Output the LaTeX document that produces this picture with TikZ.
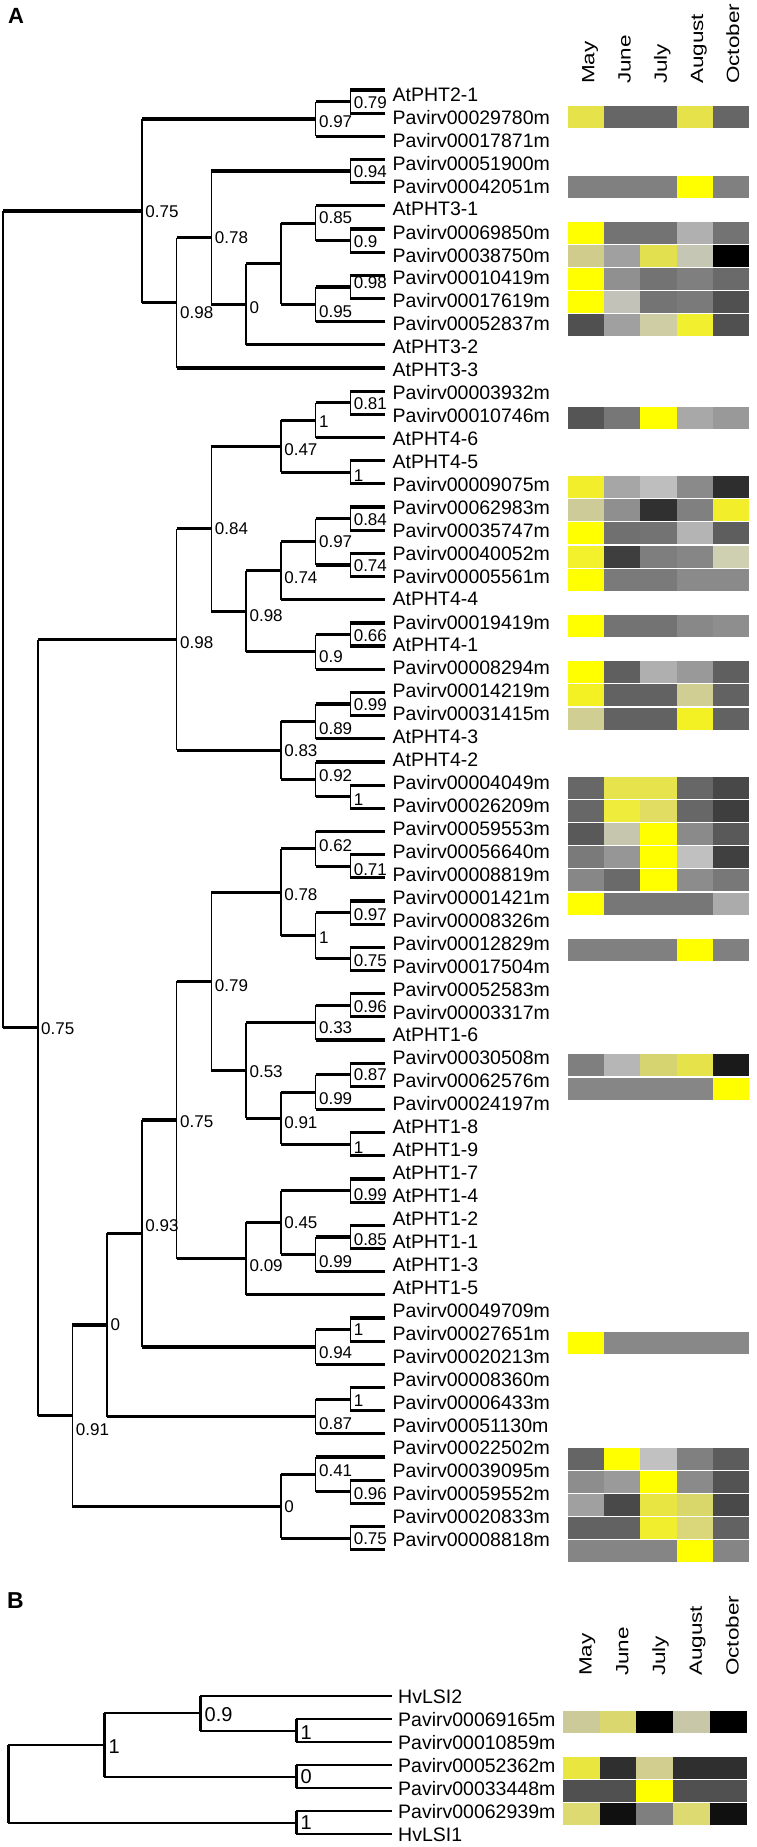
\documentclass[tikz,border=0pt]{standalone}
\usepackage{fontspec}
\setmainfont{Liberation Sans}
\newfontfamily\monthfont[FakeStretch=1.27]{Liberation Sans}
\usetikzlibrary{calc}

\tikzset{
  hbranch/.style={line width=3.2pt},
  vbranch/.style={line width=1.6pt},
  boot/.style={anchor=west, inner sep=0pt, xshift=3.3pt, font=\fontsize{17}{19}\selectfont},
  leaf/.style={anchor=west, inner sep=0pt, font=\fontsize{19.5}{22}\selectfont},
  month/.style={anchor=base west, inner sep=0pt, rotate=90, font=\monthfont\fontsize{17.7}{20}\selectfont},
  panel/.style={anchor=base west, inner sep=0pt, font=\bfseries\fontsize{22}{24}\selectfont}
}

% clade: name, level, first child, last child, support, label offset
\newcommand{\clade}[6]{%
  \coordinate (mid-#1) at ($(#3)!0.5!(#4)$);
  \coordinate (#1) at (#2 |- mid-#1);
  \draw[vbranch] (#1 |- #3) -- (#1 |- #4);
  \draw[hbranch] (#1 |- #3) -- (#3);
  \draw[hbranch] (#1 |- #4) -- (#4);
  \if\relax\detokenize{#5}\relax\else
    \node[boot] (sup-#1) at ($(#1)+(0,#6)$) {#5};
  \fi}

% heat map row: x0, first centre, pitch, cell width, row, colours
\newcommand{\setcell}[1]{\definecolor{cellc}{HTML}{#1}}
\newcommand{\hmrow}[6]{%
  \foreach \hc [count=\hj from 0] in {#6} {%
    \expandafter\setcell\expandafter{\hc}%
    \fill[cellc] ({#1+#4*\hj},{#2+#3*(#5-1)-11}) rectangle ++(#4,22);
  }}
\newcommand{\hmA}[2]{\hmrow{568}{94}{23.13}{36.2}{#1}{#2}}
\newcommand{\hmB}[2]{\hmrow{563}{1699}{23}{36.7}{#1}{#2}}

\begin{document}
\begin{tikzpicture}[x=1pt, y=-1pt]
  \path[use as bounding box, fill=white] (0,0) rectangle (756,1847);

  %% panel A
  \node[panel] (pA) at (8,23.3) {A};
  \foreach \m [count=\j from 0] in {May,June,July,August,October}
    \node[month] (mA\j) at ({594.4+36.2*\j},84) {\m};

  \hmA{2}{E5E24A,666666,666666,E5E24A,666666}
  \hmA{5}{808080,808080,808080,FFFF00,808080}
  \hmA{7}{FFFF00,737373,737373,B0B0B0,737373}
  \hmA{8}{D0CD8C,A0A0A0,E3E04F,C6C6B4,000000}
  \hmA{9}{FFFF00,909090,737373,7F7F7F,6A6A6A}
  \hmA{10}{FFFF00,C2C2B8,747474,7A7A7A,505050}
  \hmA{11}{505050,A0A0A0,CFCDA3,F2EF2E,505050}
  \hmA{15}{555555,777777,FFFF00,A8A8A8,999999}
  \hmA{18}{F2EE2C,A6A6A6,BEBEBE,8A8A8A,2E2E2E}
  \hmA{19}{CDCB98,8F8F8F,303030,808080,F2EF2A}
  \hmA{20}{FFFF00,707070,737373,B4B4B4,5E5E5E}
  \hmA{21}{F3F02C,3E3E3E,7E7E7E,868686,CFCFB1}
  \hmA{22}{FFFF00,7A7A7A,7A7A7A,8A8A8A,8A8A8A}
  \hmA{24}{FFFF00,737373,737373,888888,8E8E8E}
  \hmA{26}{FFFF00,5F5F5F,AFAFAF,999999,5F5F5F}
  \hmA{27}{F3F024,626262,626262,D1CE93,626262}
  \hmA{28}{D1CE93,626262,626262,F3F024,626262}
  \hmA{31}{676767,E6E34C,E6E34C,676767,484848}
  \hmA{32}{676767,EFEC3C,E0DD62,676767,3E3E3E}
  \hmA{33}{595959,C6C6AE,FFFF00,8A8A8A,595959}
  \hmA{34}{7A7A7A,969696,FFFF00,C0C0C0,404040}
  \hmA{35}{878787,6A6A6A,FFFF00,8C8C8C,787878}
  \hmA{36}{FFFF00,777777,777777,777777,ABABAB}
  \hmA{38}{808080,808080,808080,FFFF00,808080}
  \hmA{43}{7F7F7F,B6B6B6,D6D471,E6E34A,1A1A1A}
  \hmA{44}{868686,868686,868686,868686,FFFF00}
  \hmA{55}{FFFF00,888888,888888,888888,888888}
  \hmA{60}{656565,FFFF00,C1C1C1,808080,5C5C5C}
  \hmA{61}{8D8D8D,9A9A9A,FFFF00,8A8A8A,535353}
  \hmA{62}{A0A0A0,494949,E8E542,DAD76A,494949}
  \hmA{63}{626262,626262,F1EE2E,DAD77A,626262}
  \hmA{64}{858585,858585,858585,FFFF00,858585}

  \foreach \k in {0,...,11}
    \coordinate (kA\k) at ({3+34.73*\k},0);
  \foreach \nm [count=\i] in {AtPHT2-1,Pavirv00029780m,Pavirv00017871m,
      Pavirv00051900m,Pavirv00042051m,AtPHT3-1,Pavirv00069850m,Pavirv00038750m,
      Pavirv00010419m,Pavirv00017619m,Pavirv00052837m,AtPHT3-2,AtPHT3-3,
      Pavirv00003932m,Pavirv00010746m,AtPHT4-6,AtPHT4-5,Pavirv00009075m,
      Pavirv00062983m,Pavirv00035747m,Pavirv00040052m,Pavirv00005561m,AtPHT4-4,
      Pavirv00019419m,AtPHT4-1,Pavirv00008294m,Pavirv00014219m,Pavirv00031415m,
      AtPHT4-3,AtPHT4-2,Pavirv00004049m,Pavirv00026209m,Pavirv00059553m,
      Pavirv00056640m,Pavirv00008819m,Pavirv00001421m,Pavirv00008326m,
      Pavirv00012829m,Pavirv00017504m,Pavirv00052583m,Pavirv00003317m,AtPHT1-6,
      Pavirv00030508m,Pavirv00062576m,Pavirv00024197m,AtPHT1-8,AtPHT1-9,
      AtPHT1-7,AtPHT1-4,AtPHT1-2,AtPHT1-1,AtPHT1-3,AtPHT1-5,Pavirv00049709m,
      Pavirv00027651m,Pavirv00020213m,Pavirv00008360m,Pavirv00006433m,
      Pavirv00051130m,Pavirv00022502m,Pavirv00039095m,Pavirv00059552m,
      Pavirv00020833m,Pavirv00008818m} {
    \coordinate (t\i) at (385,{90+23.17*(\i-1)});
    \node[leaf] (leafA\i) at (392.5,{94.5+22.94*(\i-1)}) {\nm};
  }

  % PHT2 / PHT3
  \clade{a79}{kA10}{t1}{t2}{0.79}{1}
  \clade{a97}{kA9}{a79}{t3}{0.97}{3}
  \clade{a94}{kA10}{t4}{t5}{0.94}{1}
  \clade{a90}{kA10}{t7}{t8}{0.9}{1}
  \clade{a85}{kA9}{t6}{a90}{0.85}{-6}
  \clade{a98b}{kA10}{t9}{t10}{0.98}{-4}
  \clade{a95}{kA9}{a98b}{t11}{0.95}{7}
  \clade{a8}{kA8}{a85}{a95}{}{0}
  \clade{a0}{kA7}{a8}{t12}{0}{3}
  \clade{a78}{kA6}{a94}{a0}{0.78}{0}
  \clade{a98}{kA5}{a78}{t13}{0.98}{10}
  \clade{a75}{kA4}{a97}{a98}{0.75}{1}
  % PHT4
  \clade{b81}{kA10}{t14}{t15}{0.81}{1}
  \clade{b1a}{kA9}{b81}{t16}{1}{1}
  \clade{b1b}{kA10}{t17}{t18}{1}{3}
  \clade{b47}{kA8}{b1a}{b1b}{0.47}{3}
  \clade{b84a}{kA10}{t19}{t20}{0.84}{1}
  \clade{b74a}{kA10}{t21}{t22}{0.74}{1}
  \clade{b97}{kA9}{b84a}{b74a}{0.97}{0}
  \clade{b74}{kA8}{b97}{t23}{0.74}{7}
  \clade{b66}{kA10}{t24}{t25}{0.66}{1}
  \clade{b90}{kA9}{b66}{t26}{0.9}{5}
  \clade{b98}{kA7}{b74}{b90}{0.98}{4}
  \clade{b84}{kA6}{b47}{b98}{0.84}{0}
  \clade{b99}{kA10}{t27}{t28}{0.99}{1}
  \clade{b89}{kA9}{b99}{t29}{0.89}{7}
  \clade{b1c}{kA10}{t31}{t32}{1}{3}
  \clade{b92}{kA9}{t30}{b1c}{0.92}{-4}
  \clade{b83}{kA8}{b89}{b92}{0.83}{0}
  \clade{b98c}{kA5}{b84}{b83}{0.98}{3}
  % PHT1
  \clade{c71}{kA10}{t34}{t35}{0.71}{3}
  \clade{c62}{kA9}{t33}{c71}{0.62}{-3}
  \clade{c97}{kA10}{t36}{t37}{0.97}{2}
  \clade{c75}{kA10}{t38}{t39}{0.75}{2}
  \clade{c1}{kA9}{c97}{c75}{1}{2}
  \clade{c78}{kA8}{c62}{c1}{0.78}{2}
  \clade{c96}{kA10}{t40}{t41}{0.96}{1.5}
  \clade{c33}{kA9}{c96}{t42}{0.33}{5}
  \clade{c87}{kA10}{t43}{t44}{0.87}{0}
  \clade{c99}{kA9}{c87}{t45}{0.99}{7}
  \clade{c1b}{kA10}{t46}{t47}{1}{3}
  \clade{c91}{kA8}{c99}{c1b}{0.91}{4}
  \clade{c53}{kA7}{c33}{c91}{0.53}{1}
  \clade{c79}{kA6}{c78}{c53}{0.79}{4}
  \clade{c99b}{kA10}{t48}{t49}{0.99}{4}
  \clade{c85}{kA10}{t50}{t51}{0.85}{3}
  \clade{c99c}{kA9}{c85}{t52}{0.99}{7}
  \clade{c45}{kA8}{c99b}{c99c}{0.45}{0}
  \clade{c09}{kA7}{c45}{t53}{0.09}{7}
  \clade{c75b}{kA5}{c79}{c09}{0.75}{2}
  \clade{d1}{kA10}{t54}{t55}{1}{0}
  \clade{d94}{kA9}{d1}{t56}{0.94}{6}
  \clade{d93}{kA4}{c75b}{d94}{0.93}{-8}
  \clade{d1b}{kA10}{t57}{t58}{1}{2}
  \clade{d87}{kA9}{d1b}{t59}{0.87}{7}
  \clade{d0}{kA3}{d93}{d87}{0}{0}
  \clade{e96}{kA10}{t61}{t62}{0.96}{2}
  \clade{e41}{kA9}{t60}{e96}{0.41}{-4}
  \clade{e75}{kA10}{t63}{t64}{0.75}{1}
  \clade{e0}{kA8}{e41}{e75}{0}{0}
  \clade{d91}{kA2}{d0}{e0}{0.91}{14}
  \clade{r75}{kA1}{b98c}{d91}{0.75}{1}
  \clade{rootA}{kA0}{a75}{r75}{}{0}

  %% panel B
  \node[panel, font=\bfseries\fontsize{23}{25}\selectfont] (pB) at (7,1608.3) {B};
  \foreach \m [count=\j from 0] in {May,June,July,August,October}
    \node[month] (mB\j) at ({591.7+36.7*\j},1676) {\m};

  \hmB{2}{CBCA98,D9D76E,000000,C8C7A8,000000}
  \hmB{4}{E9E640,2F2F2F,D1CE90,2F2F2F,2F2F2F}
  \hmB{5}{505050,505050,FFFF00,505050,505050}
  \hmB{6}{DCDA70,101010,7F7F7F,DCDA70,101010}

  \begin{scope}[hbranch/.style={line width=2pt}, vbranch/.style={line width=3pt},
      boot/.style={anchor=west, inner sep=0pt, xshift=4.5pt, font=\fontsize{20}{22}\selectfont}]
    \foreach \k in {0,...,4}
      \coordinate (kB\k) at ({8+96*\k},1700);
    \foreach \nm [count=\i] in {HvLSI2,Pavirv00069165m,Pavirv00010859m,
        Pavirv00052362m,Pavirv00033448m,Pavirv00062939m,HvLSI1} {
      \coordinate (s\i) at (392,{1696+23*(\i-1)});
      \node[leaf] (leafB\i) at (398,{1697+23*(\i-1)}) {\nm};
    }
    \clade{g1}{kB3}{s2}{s3}{1}{2.5}
    \clade{g0}{kB3}{s4}{s5}{0}{0}
    \clade{g1b}{kB3}{s6}{s7}{1}{0}
    \clade{g09}{kB2}{s1}{g1}{0.9}{1}
    \clade{g1c}{kB1}{g09}{g0}{1}{2}
    \clade{rootB}{kB0}{g1c}{g1b}{}{0}
  \end{scope}
\end{tikzpicture}
\end{document}
